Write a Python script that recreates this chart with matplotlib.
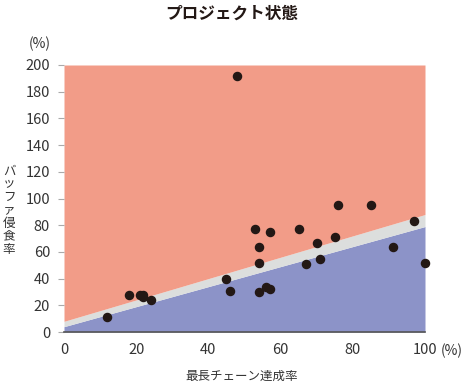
import matplotlib
matplotlib.use("Agg")
import matplotlib.pyplot as plt
import numpy as np

plt.rcParams['font.family'] = ['Noto Sans CJK JP', 'DejaVu Sans']

# chain completion rate (%) vs buffer consumption rate (%)
chain_done = [48, 12, 18, 21, 22, 22, 24, 45, 46, 53, 57, 54, 54, 54, 56, 57,
              65, 67, 70, 71, 75, 76, 85, 91, 97, 100]
buffer_used = [192, 11, 28, 28, 28, 26, 24, 40, 31, 77, 75, 64, 52, 30, 34, 32,
               77, 51, 67, 55, 71, 95, 95, 64, 83, 52]

# zone boundaries at x = 0 and x = 100
edge_x = [0, 100]
green_top = [4, 79]
yellow_top = [8, 88]

red = '#F29C88'
blue = '#8C93C8'
grey = '#DCDEDD'

fig = plt.figure(figsize=(4.67, 3.82), dpi=100)
ax = fig.add_axes([64/467, 50/382, 361/467, 267/382])

ax.fill_between(edge_x, 0, green_top, color=blue, lw=0)
ax.fill_between(edge_x, green_top, yellow_top, color=grey, lw=0)
ax.fill_between(edge_x, yellow_top, 200, color=red, lw=0)

ax.scatter(chain_done, buffer_used, s=34, color='#231815', zorder=3, clip_on=False)

ax.set_xlim(0, 100)
ax.set_ylim(0, 200)
ax.set_xticks(range(0, 101, 20))
ax.set_xticklabels(['0', '20', '40', '60', '80', '100'])
ax.set_yticks(range(0, 201, 20))

for s in ['top', 'right', 'left']:
    ax.spines[s].set_visible(False)
ax.spines['bottom'].set_color('#555555')
ax.spines['bottom'].set_linewidth(1.2)

ax.tick_params(axis='x', length=0, pad=8, labelsize=10.5, labelcolor='#333333')
ax.tick_params(axis='y', length=4, width=0.8, color='#aaaaaa', pad=6,
               labelsize=10.5, labelcolor='#333333')

fig.text(0.497, 0.963, 'プロジェクト状態', ha='center', va='center',
         fontsize=12, fontweight='bold', color='#231815')
fig.text(40/467, 1 - 44/382, '(%)', ha='center', va='center',
         fontsize=10, color='#333333')
fig.text(452/467, 1 - 351/382, '(%)', ha='center', va='center',
         fontsize=10, color='#333333')
fig.text(242/467, 1 - 376/382, '最長チェーン達成率', ha='center', va='center',
         fontsize=9, color='#333333')
fig.text(9/467, 1 - 210/382, '\n'.join('バッファ侵食率'), ha='center', va='center',
         fontsize=9, color='#333333', linespacing=1.0)

fig.savefig('out.png', dpi=100)
